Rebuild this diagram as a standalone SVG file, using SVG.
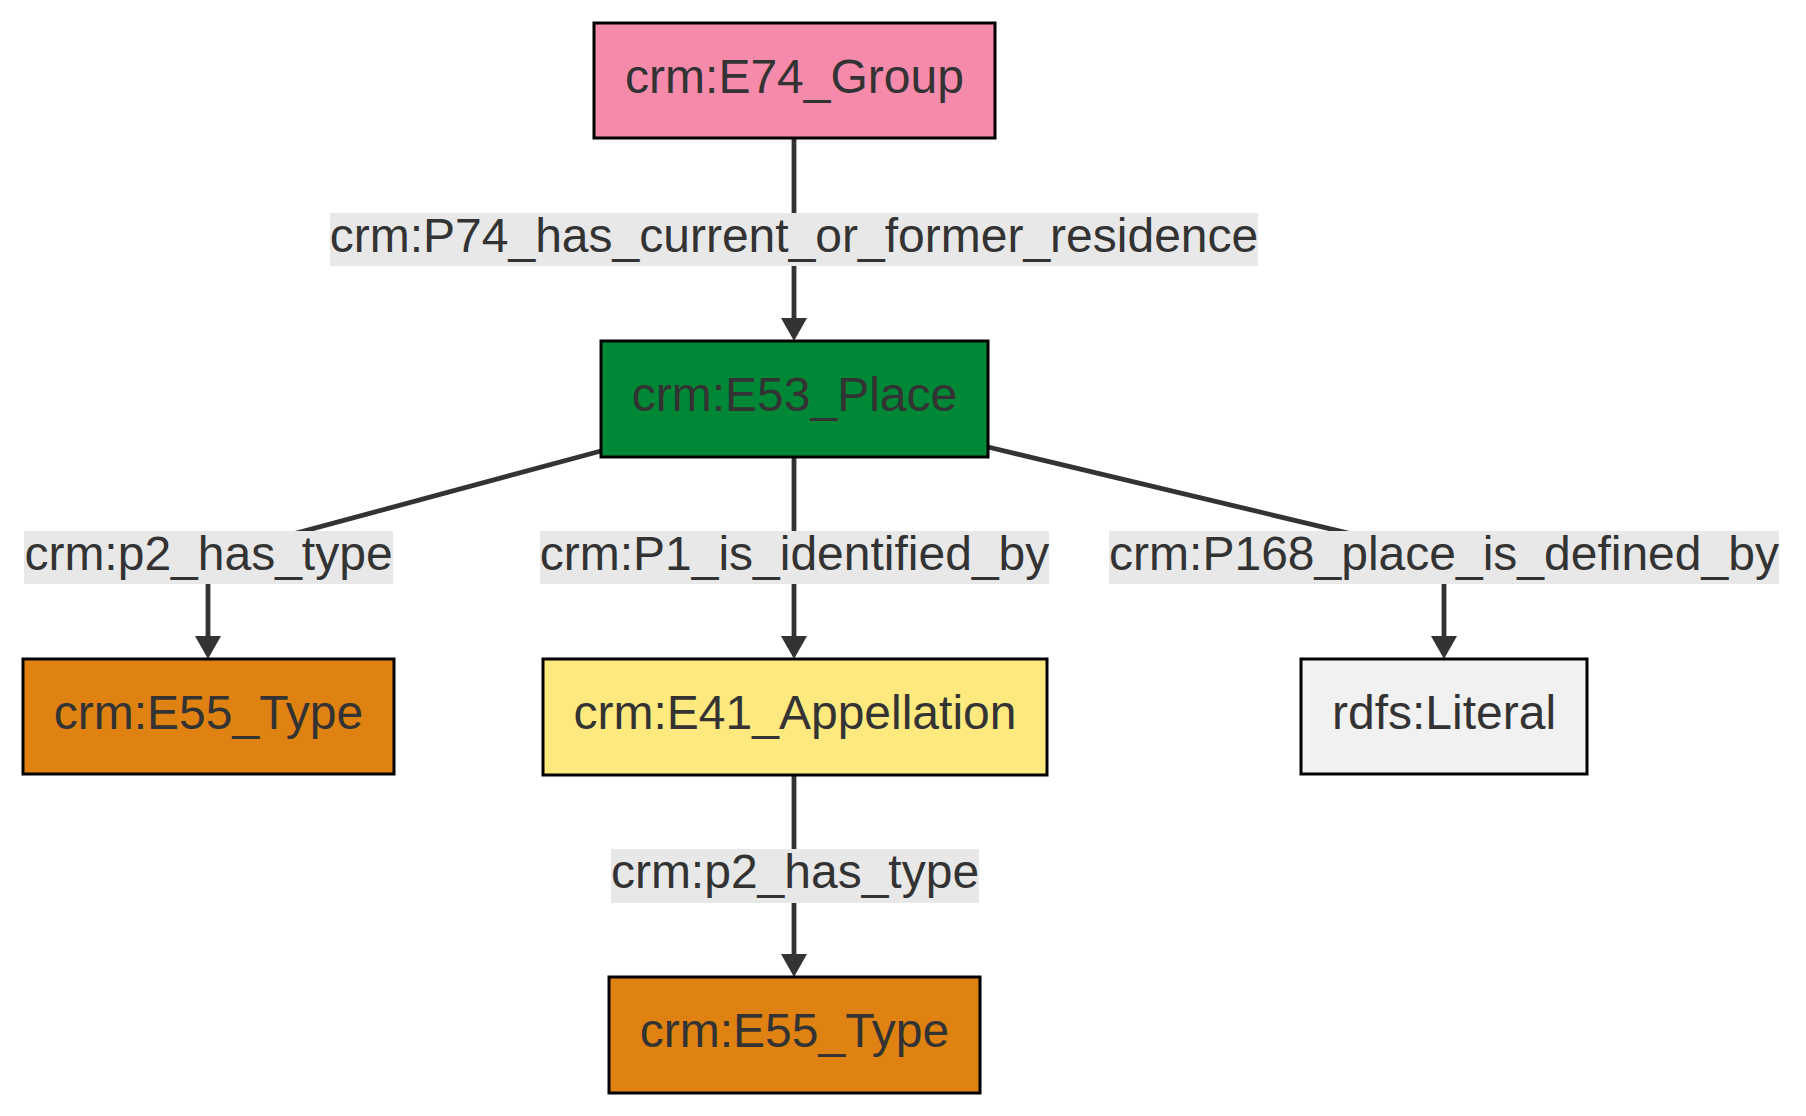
<svg xmlns="http://www.w3.org/2000/svg" width="1806" height="1116" viewBox="0 0 1806 1116">
<style>
  text { font-family: "Liberation Sans", Arial, sans-serif; font-size: 48px; fill: #333333; text-anchor: middle; dominant-baseline: central; }
  .node rect { stroke: #000000; stroke-width: 3; }
  .edge { fill: none; stroke: #333333; stroke-width: 4.8; }
  .lbl rect { fill: #e8e8e8; stroke: none; }
</style>
<defs>
  <marker id="arrow" markerUnits="userSpaceOnUse" markerWidth="26" markerHeight="26" viewBox="0 0 23 26" refX="13" refY="13" orient="auto">
    <path d="M0,0 L23,13 L0,26 z" fill="#333333"/>
  </marker>
</defs>
<rect width="1806" height="1116" fill="#ffffff"/>
<g id="connectors">
  <path class="edge" d="M794,138 L794,331" marker-end="url(#arrow)"/>
  <path class="edge" d="M601,451 L208,557 L208,649" marker-end="url(#arrow)"/>
  <path class="edge" d="M794,457 L794,649" marker-end="url(#arrow)"/>
  <path class="edge" d="M988,447 L1444,556 L1444,649" marker-end="url(#arrow)"/>
  <path class="edge" d="M794,775 L794,967" marker-end="url(#arrow)"/>
  <g class="lbl"><rect x="330" y="213" width="928" height="53"/><text x="794" y="235">crm:P74_has_current_or_former_residence</text></g>
  <g class="lbl"><rect x="24" y="531" width="369" height="53"/><text x="208.5" y="553">crm:p2_has_type</text></g>
  <g class="lbl"><rect x="540" y="531" width="509" height="53"/><text x="794.5" y="553">crm:P1_is_identified_by</text></g>
  <g class="lbl"><rect x="1109" y="531" width="670" height="53"/><text x="1444" y="553">crm:P168_place_is_defined_by</text></g>
  <g class="lbl"><rect x="611" y="849" width="368" height="54"/><text x="795" y="871">crm:p2_has_type</text></g>
</g>
<g id="n-group" class="node"><rect x="594" y="23" width="401" height="115" fill="#f58aab"/><text x="794.5" y="76">crm:E74_Group</text></g>
<g id="n-place" class="node"><rect x="601" y="341" width="387" height="116" fill="#008836"/><text x="794.5" y="394.5">crm:E53_Place</text></g>
<g id="n-type1" class="node"><rect x="23" y="659" width="371" height="115" fill="#e08212"/><text x="208.5" y="712">crm:E55_Type</text></g>
<g id="n-appellation" class="node"><rect x="543" y="659" width="504" height="116" fill="#fee97f"/><text x="795" y="712.5">crm:E41_Appellation</text></g>
<g id="n-literal" class="node"><rect x="1301" y="659" width="286" height="115" fill="#f1f1f1"/><text x="1444" y="712">rdfs:Literal</text></g>
<g id="n-type2" class="node"><rect x="609" y="977" width="371" height="116" fill="#e08212"/><text x="794.5" y="1030.5">crm:E55_Type</text></g>
</svg>
